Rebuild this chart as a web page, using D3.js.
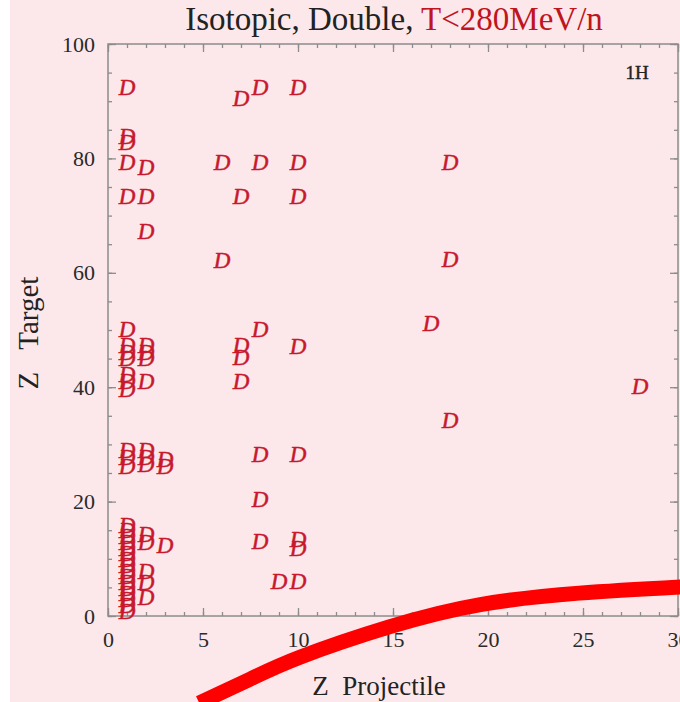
<!DOCTYPE html>
<html><head><meta charset="utf-8">
<script src="https://cdn.jsdelivr.net/npm/d3@7"></script>
<style>
html,body{margin:0;padding:0;background:#fff;}
svg{display:block;}
</style></head>
<body>
<svg id="chart" width="680" height="702"></svg>
<script>
// ---- data ----
const titleBlack = "Isotopic, Double, ";
const titleRed = "T<280MeV/n";
const xLabel = "Z  Projectile";
const yLabel = "Z  Target";
const cornerLabel = "1H";
const xTicks = [0, 5, 10, 15, 20, 25, 30];
const yTicks = [0, 20, 40, 60, 80, 100];
const markerText = "D";

const projZ = [
  1,1,1,1,1,1,1,1,1,1,1,1,1,1,1,
  1,1,1,1,1,1,1,1,1,1,1,1,1,1,1,1,
  2,2,2,2,2,2,2,2,2,2,2,2,2,2,2,
  3,3,3,
  6,6,
  7,7,7,7,7,
  8,8,8,8,8,8,
  9,
  10,10,10,10,10,10,10,10,
  17,
  18,18,18,
  28
];
const targetZ = [
  92.5,84,83,79.5,73.5,50.2,47.4,46.2,45.1,42.3,41.1,39.8,29,27.8,26.3,
  1,2,3,4,5,6,7,8,9,10,11,12,13,14,15,16,
  78.6,73.5,67.4,47.4,46.2,45.1,41.2,29,27.8,26.6,14.4,13,8,6,3.3,
  27.5,26.2,12.4,
  79.5,62.3,
  90.6,73.5,47.4,45.4,41.2,
  92.5,79.5,50.3,28.3,20.5,13.2,
  6.1,
  92.5,79.5,73.5,47.3,28.3,13.5,12,6.1,
  51.2,
  79.4,62.4,34.3,
  40.2
];

// hand-drawn red annotation arc (in data units)
const arcX = [4.8, 7.5, 10.1, 14.8, 19.6, 24.8, 30.2];
const arcY = [-15.2, -11.0, -7.2, -1.9, 2.0, 4.0, 5.1];

// ---- drawing ----
const W = 680, H = 702;
const svg = d3.select("#chart");
const serif = "'Liberation Serif','DejaVu Serif',serif";

svg.append("rect").attr("x", 0).attr("y", 0).attr("width", W).attr("height", H).attr("fill", "#fff");
svg.append("rect").attr("x", 10).attr("y", 0).attr("width", W - 10).attr("height", H).attr("fill", "#fce8ea");

const x = d3.scaleLinear().domain([0, 30]).range([108, 678]);
const y = d3.scaleLinear().domain([0, 100]).range([616, 44]);

const axisColor = "#8c8c8c";

function styleAxis(g) {
  g.selectAll(".domain").remove();
  g.selectAll(".tick line").attr("stroke", axisColor).attr("stroke-width", 1.3);
  g.selectAll(".tick text").attr("fill", "#2a2a2a").attr("font-family", serif).attr("font-size", 22);
}

// minor ticks
const xMinor = d3.range(0, 31, 1);
const yMinor = d3.range(0, 101, 5);
svg.append("g").attr("transform", `translate(0,${y(0)})`)
  .call(d3.axisBottom(x).tickValues(xMinor).tickSize(-4).tickFormat("")).call(styleAxis);
svg.append("g").attr("transform", `translate(0,${y(100)})`)
  .call(d3.axisTop(x).tickValues(xMinor).tickSize(-4).tickFormat("")).call(styleAxis);
svg.append("g").attr("transform", `translate(${x(0)},0)`)
  .call(d3.axisLeft(y).tickValues(yMinor).tickSize(-4).tickFormat("")).call(styleAxis);
svg.append("g").attr("transform", `translate(${x(30)},0)`)
  .call(d3.axisRight(y).tickValues(yMinor).tickSize(-4).tickFormat("")).call(styleAxis);

// major ticks with labels
svg.append("g").attr("transform", `translate(0,${y(0)})`)
  .call(d3.axisBottom(x).tickValues(xTicks).tickSize(-8).tickPadding(15).tickFormat(d3.format("d"))).call(styleAxis);
svg.append("g").attr("transform", `translate(0,${y(100)})`)
  .call(d3.axisTop(x).tickValues(xTicks).tickSize(-8).tickFormat("")).call(styleAxis);
svg.append("g").attr("transform", `translate(${x(0)},0)`)
  .call(d3.axisLeft(y).tickValues(yTicks).tickSize(-8).tickPadding(13).tickFormat(d3.format("d"))).call(styleAxis);
svg.append("g").attr("transform", `translate(${x(30)},0)`)
  .call(d3.axisRight(y).tickValues(yTicks).tickSize(-8).tickFormat("")).call(styleAxis);

// frame
svg.append("rect").attr("x", x(0)).attr("y", y(100))
  .attr("width", x(30) - x(0)).attr("height", y(0) - y(100))
  .attr("fill", "none").attr("stroke", axisColor).attr("stroke-width", 1.5);

// points
const pts = projZ.map((p, i) => ({ p, t: targetZ[i] }));
svg.append("g").selectAll("text").data(pts).join("text")
  .attr("x", d => x(d.p)).attr("y", d => y(d.t))
  .attr("text-anchor", "middle").attr("dy", "0.36em")
  .attr("font-family", serif).attr("font-style", "italic")
  .attr("font-size", 23).attr("fill", "#c8182e")
  .attr("stroke", "#c8182e").attr("stroke-width", 0.5)
  .text(markerText);

// corner label
svg.append("text").attr("x", 637).attr("y", 79).attr("text-anchor", "middle")
  .attr("font-family", serif).attr("font-size", 19).attr("fill", "#222")
  .attr("stroke", "#222").attr("stroke-width", 0.4)
  .text(cornerLabel);

// title
const title = svg.append("text").attr("x", 394).attr("y", 30).attr("text-anchor", "middle")
  .attr("font-family", serif).attr("font-size", 33);
title.append("tspan").attr("fill", "#222").text(titleBlack);
title.append("tspan").attr("fill", "#c0141e").text(titleRed);

// axis labels
svg.append("text").attr("x", 379).attr("y", 695).attr("text-anchor", "middle")
  .attr("font-family", serif).attr("font-size", 27).attr("fill", "#222")
  .style("white-space", "pre").text(xLabel);
svg.append("text").attr("transform", "translate(38,333) rotate(-90)").attr("text-anchor", "middle")
  .attr("font-family", serif).attr("font-size", 29).attr("fill", "#222")
  .attr("word-spacing", 4)
  .style("white-space", "pre").text(yLabel);

// red annotation arc
const arcPts = arcX.map((v, i) => [x(v), y(arcY[i])]);
svg.append("path").attr("d", d3.line().curve(d3.curveNatural)(arcPts))
  .attr("fill", "none").attr("stroke", "#ff0000").attr("stroke-width", 15).attr("stroke-linecap", "butt");
</script>
</body></html>
